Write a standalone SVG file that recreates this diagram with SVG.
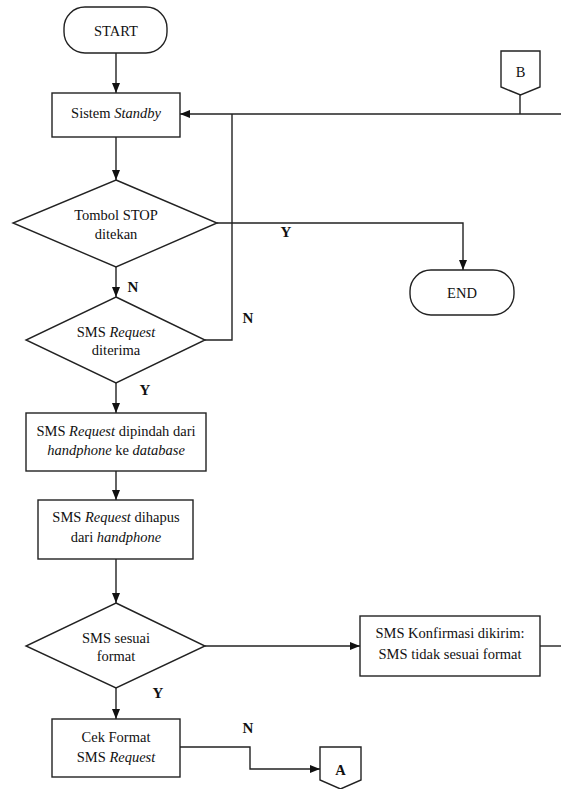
<svg xmlns="http://www.w3.org/2000/svg" width="561" height="789" viewBox="0 0 561 789">
<style>
.s{fill:#fff;stroke:#222;stroke-width:1.4}
.c{fill:none;stroke:#222;stroke-width:1.4}
.t{font-family:"Liberation Serif","Times New Roman",serif;font-size:14.5px;fill:#111;text-anchor:middle}
.l{font-family:"Liberation Serif","Times New Roman",serif;font-size:15px;font-weight:bold;fill:#111;text-anchor:middle}
.i{font-style:italic}
.b{font-weight:bold}
</style>
<defs>
<marker id="ah" markerUnits="userSpaceOnUse" markerWidth="10" markerHeight="10" viewBox="0 0 10 10" refX="10" refY="5" orient="auto">
<path d="M0,1 L10,5 L0,9 Z" fill="#111"/>
</marker>
</defs>
<rect width="561" height="789" fill="#fff"/>
<g id="connectors">
<line class="c" x1="116" y1="53" x2="116" y2="93" marker-end="url(#ah)"/>
<line class="c" x1="116" y1="137" x2="116" y2="180" marker-end="url(#ah)"/>
<line class="c" x1="116" y1="267" x2="116" y2="297" marker-end="url(#ah)"/>
<path class="c" d="M217,223 H463 V270" marker-end="url(#ah)"/>
<path class="c" d="M205,340 H232 V114"/>
<path class="c" d="M520,95 V114"/>
<line class="c" x1="561" y1="114" x2="180" y2="114" marker-end="url(#ah)"/>
<line class="c" x1="116" y1="383" x2="116" y2="413" marker-end="url(#ah)"/>
<line class="c" x1="116" y1="471" x2="116" y2="500" marker-end="url(#ah)"/>
<line class="c" x1="116" y1="559" x2="116" y2="603" marker-end="url(#ah)"/>
<line class="c" x1="205" y1="646" x2="360" y2="646" marker-end="url(#ah)"/>
<line class="c" x1="540" y1="646" x2="561" y2="646"/>
<line class="c" x1="116" y1="688" x2="116" y2="719" marker-end="url(#ah)"/>
<path class="c" d="M180,747 H250 V769 H320" marker-end="url(#ah)"/>
<text class="l" x="286" y="237">Y</text>
<text class="l" x="133" y="292">N</text>
<text class="l" x="248" y="323">N</text>
<text class="l" x="145" y="395">Y</text>
<text class="l" x="158" y="698">Y</text>
<text class="l" x="248" y="733">N</text>
</g>
<g id="start">
<rect class="s" x="64" y="7" width="103" height="46" rx="21"/>
<text class="t" x="116" y="36">START</text>
</g>
<g id="standby">
<rect class="s" x="52" y="93" width="128" height="44"/>
<text class="t" x="116" y="118">Sistem <tspan class="i">Standby</tspan></text>
</g>
<g id="connector-b">
<path class="s" d="M501,51 H540 V87 L520.5,95 L501,87 Z"/>
<text class="t" x="520.5" y="77">B</text>
</g>
<g id="stop-decision">
<polygon class="s" points="116,180 217,223 116,267 13,223"/>
<text class="t" x="116" y="220">Tombol STOP</text>
<text class="t" x="116" y="239">ditekan</text>
</g>
<g id="end">
<rect class="s" x="410" y="270" width="104" height="45" rx="21"/>
<text class="t" x="462" y="298">END</text>
</g>
<g id="sms-received">
<polygon class="s" points="116,297 205,340 116,383 26,340"/>
<text class="t" x="116" y="337">SMS <tspan class="i">Request</tspan></text>
<text class="t" x="116" y="355">diterima</text>
</g>
<g id="move-to-db">
<rect class="s" x="26" y="413" width="180" height="58"/>
<text class="t" x="116" y="436">SMS <tspan class="i">Request</tspan> dipindah dari</text>
<text class="t" x="116" y="455"><tspan class="i">handphone</tspan> ke <tspan class="i">database</tspan></text>
</g>
<g id="delete-from-hp">
<rect class="s" x="38" y="500" width="155" height="59"/>
<text class="t" x="116" y="522">SMS <tspan class="i">Request</tspan> dihapus</text>
<text class="t" x="116" y="542">dari <tspan class="i">handphone</tspan></text>
</g>
<g id="format-decision">
<polygon class="s" points="116,603 205,646 116,688 26,646"/>
<text class="t" x="116" y="643">SMS sesuai</text>
<text class="t" x="116" y="661">format</text>
</g>
<g id="confirm-sent">
<rect class="s" x="360" y="616" width="180" height="60"/>
<text class="t" x="450" y="638">SMS Konfirmasi dikirim:</text>
<text class="t" x="450" y="659">SMS tidak sesuai format</text>
</g>
<g id="check-format">
<rect class="s" x="52" y="719" width="128" height="58"/>
<text class="t" x="116" y="742">Cek Format</text>
<text class="t" x="116" y="762">SMS <tspan class="i">Request</tspan></text>
</g>
<g id="connector-a">
<path class="s" d="M320,747 H361 V780 L340.5,789 L320,780 Z"/>
<text class="t b" x="340.5" y="775">A</text>
</g>
</svg>
